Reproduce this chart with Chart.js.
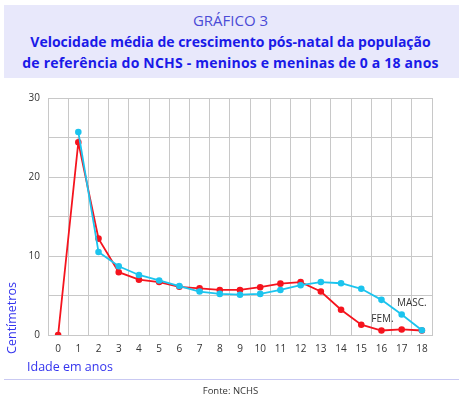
<!DOCTYPE html>
<html>
<head>
<meta charset="utf-8">
<script src="https://cdn.jsdelivr.net/npm/chart.js@4/dist/chart.umd.min.js"></script>
<style>
html,body{margin:0;padding:0;background:#fff;width:461px;height:396px;overflow:hidden;font-family:"Open Sans","DejaVu Sans",sans-serif;}
#box{position:absolute;left:4px;top:5px;width:455px;height:73px;background:#e8e8fb;}
#t0{position:absolute;left:0;top:13px;width:461px;text-align:center;font-size:15px;color:#4b4bd6;line-height:15px;}
#t1,#t2{position:absolute;left:0;width:461px;text-align:center;font-size:14px;font-weight:bold;color:#1a1ae8;line-height:15px;white-space:nowrap;}
#t1{top:34px;}#t2{top:55px;}
#t2{letter-spacing:0.2px;}
#wrap{position:absolute;left:0;top:0;width:461px;height:396px;}
#ytitle{position:absolute;left:11px;top:318px;transform:translate(-50%,-50%) rotate(-90deg);font-size:12.5px;color:#3434ee;white-space:nowrap;}
#xtitle{position:absolute;left:27px;top:358px;font-size:12.5px;color:#3434ee;white-space:nowrap;}
#rule{position:absolute;left:4px;top:379px;width:455px;height:1px;background:#c9c9f2;}
#src{position:absolute;left:0;top:384px;width:461px;text-align:center;font-size:9.5px;color:#333;}
</style>
</head>
<body>
<div id="box"></div>
<div id="t0">GRÁFICO 3</div>
<div id="t1">Velocidade média de crescimento pós-natal da população</div>
<div id="t2">de referência do NCHS - meninos e meninas de 0 a 18 anos</div>
<div id="wrap"><canvas id="c" width="461" height="396"></canvas></div>
<div id="ytitle">Centímetros</div>
<div id="xtitle">Idade em anos</div>
<div id="rule"></div>
<div id="src">Fonte: NCHS</div>
<script>
const ages = ["0","1","2","3","4","5","6","7","8","9","10","11","12","13","14","15","16","17","18"];
const masc = [null,25.7,10.5,8.7,7.6,6.9,6.2,5.5,5.2,5.1,5.2,5.7,6.3,6.7,6.55,5.85,4.45,2.6,0.6];
const fem  = [0,24.4,12.2,7.95,7.0,6.7,6.1,5.9,5.7,5.7,6.05,6.5,6.7,5.5,3.2,1.3,0.57,0.7,0.57];
const yTicks = [0,10,20,30];
const seriesLabels = ["MASC.","FEM."];

const labelPlugin = {
  id:'seriesLabels',
  afterDatasetsDraw(chart){
    const {ctx, scales:{x,y}} = chart;
    ctx.save();
    ctx.font = '10px "Open Sans", "DejaVu Sans", sans-serif';
    ctx.fillStyle = '#333';
    ctx.textAlign = 'center';
    ctx.textBaseline = 'middle';
    ctx.fillText(seriesLabels[0], x.getPixelForValue(17.5), y.getPixelForValue(4.05));
    ctx.fillText(seriesLabels[1], x.getPixelForValue(16.05), y.getPixelForValue(1.95));
    ctx.restore();
  }
};

new Chart(document.getElementById('c'), {
  type:'line',
  data:{
    labels: ages,
    datasets:[
      {label:seriesLabels[0], data:masc, borderColor:'#1cc4ee', backgroundColor:'#1cc4ee', borderWidth:1.8, pointRadius:2.4, pointHoverRadius:2.4, tension:0, spanGaps:false},
      {label:seriesLabels[1], data:fem, borderColor:'#f5141e', backgroundColor:'#f5141e', borderWidth:1.8, pointRadius:2.4, pointHoverRadius:2.4, tension:0}
    ]
  },
  options:{
    responsive:false, animation:false,
    layout:{padding:{left:20,top:98,right:29,bottom:41}},
    plugins:{legend:{display:false}, tooltip:{enabled:false}},
    scales:{
      x:{
        offset:true,
        grid:{offset:true, color:'#c8c8c8', drawTicks:false, lineWidth:1},
        border:{color:'#c8c8c8'},
        ticks:{color:'#333', font:{size:10, family:'"Open Sans", "DejaVu Sans", sans-serif'}, padding:8, maxRotation:0, autoSkip:false},
        afterFit(s){s.height=20;}
      },
      y:{
        min:0, max:30,
        grid:{color:'#c8c8c8', drawTicks:false},
        border:{color:'#c8c8c8'},
        ticks:{stepSize:5, color:'#333', padding:8, font:{size:10, family:'"Open Sans", "DejaVu Sans", sans-serif'},
          callback:(v)=> yTicks.includes(v) ? String(v) : ''},
        afterFit(s){s.width=28;}
      }
    }
  },
  plugins:[labelPlugin]
});
</script>
</body>
</html>
